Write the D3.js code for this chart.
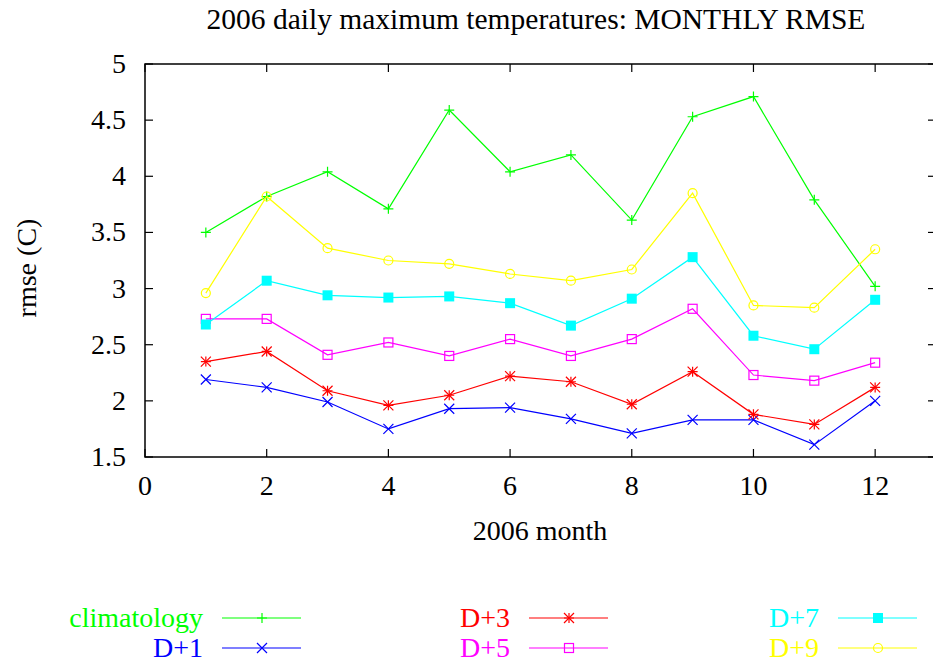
<!DOCTYPE html>
<html>
<head>
<meta charset="utf-8">
<script src="https://d3js.org/d3.v7.min.js"></script>
<style>
  body { margin: 0; background: #fff; }
  text { font-family: "Liberation Serif", "Times New Roman", serif; }
</style>
</head>
<body>
<svg></svg>
<script>
/* data */
var months = [1, 2, 3, 4, 5, 6, 7, 8, 9, 10, 11, 12];
var climatology = [3.50, 3.82, 4.04, 3.71, 4.59, 4.04, 4.19, 3.61, 4.53, 4.71, 3.79, 3.02];
var d1 = [2.19, 2.12, 1.99, 1.75, 1.93, 1.94, 1.84, 1.71, 1.83, 1.83, 1.61, 2.00];
var d3v = [2.35, 2.44, 2.09, 1.96, 2.05, 2.22, 2.17, 1.97, 2.26, 1.88, 1.79, 2.12];
var d5 = [2.73, 2.73, 2.41, 2.52, 2.40, 2.55, 2.40, 2.55, 2.82, 2.23, 2.18, 2.34];
var d7 = [2.68, 3.07, 2.94, 2.92, 2.93, 2.87, 2.67, 2.91, 3.28, 2.58, 2.46, 2.90];
var d9 = [2.96, 3.82, 3.36, 3.25, 3.22, 3.13, 3.07, 3.17, 3.85, 2.85, 2.83, 3.35];
var seriesNames = ['climatology', 'D+1', 'D+3', 'D+5', 'D+7', 'D+9'];
var xTicks = [0, 2, 4, 6, 8, 10, 12];
var yTicks = [1.5, 2, 2.5, 3, 3.5, 4, 4.5, 5];

var series = [
  {name: seriesNames[0], values: climatology, color: '#00ff00', sym: 'plus'},
  {name: seriesNames[1], values: d1, color: '#0000ff', sym: 'cross'},
  {name: seriesNames[2], values: d3v, color: '#ff0000', sym: 'star'},
  {name: seriesNames[3], values: d5, color: '#ff00ff', sym: 'box'},
  {name: seriesNames[4], values: d7, color: '#00ffff', sym: 'fbox'},
  {name: seriesNames[5], values: d9, color: '#ffff00', sym: 'circle'}
];

/* svg setting */
var svgWidth = 933;
var svgHeight = 667;
var margin = {top: 64, left: 145};
var width = 791;
var height = 393;
var fontSize = 28;

var svg = d3.select('svg')
    .attr('width', svgWidth)
    .attr('height', svgHeight);

var scale = {};
scale.x = d3.scaleLinear().domain([0, 13]).range([0, width]);
scale.y = d3.scaleLinear().domain([1.5, 5]).range([height, 0]);

var g = svg.append('g')
    .attr('transform', translate(margin.left, margin.top));

/* frame and ticks */
g.append('rect')
    .attr('width', width).attr('height', height)
    .attr('fill', 'none').attr('stroke', '#000').attr('stroke-width', 1.5);

var tickLen = 8;
xTicks.forEach(function(t){
  var x = scale.x(t);
  g.append('line').attr('x1', x).attr('x2', x).attr('y1', height).attr('y2', height - tickLen)
      .attr('stroke', '#000').attr('stroke-width', 1.2);
  g.append('line').attr('x1', x).attr('x2', x).attr('y1', 0).attr('y2', tickLen)
      .attr('stroke', '#000').attr('stroke-width', 1.2);
  g.append('text').attr('x', x).attr('y', height + 38)
      .attr('text-anchor', 'middle').attr('font-size', fontSize).text(t);
});
yTicks.forEach(function(t){
  var y = scale.y(t);
  g.append('line').attr('x1', 0).attr('x2', tickLen).attr('y1', y).attr('y2', y)
      .attr('stroke', '#000').attr('stroke-width', 1.2);
  g.append('line').attr('x1', width).attr('x2', width - tickLen).attr('y1', y).attr('y2', y)
      .attr('stroke', '#000').attr('stroke-width', 1.2);
  g.append('text').attr('x', -19).attr('y', y + 9)
      .attr('text-anchor', 'end').attr('font-size', fontSize).text(t);
});

/* titles */
svg.append('text').attr('x', 536).attr('y', 29)
    .attr('text-anchor', 'middle').attr('font-size', 29.5)
    .text('2006 daily maximum temperatures: MONTHLY RMSE');
svg.append('text').attr('x', 540).attr('y', 540)
    .attr('text-anchor', 'middle').attr('font-size', fontSize).text('2006 month');
svg.append('text')
    .attr('transform', 'translate(36,' + 268 + ') rotate(-90)')
    .attr('text-anchor', 'middle').attr('font-size', fontSize).text('rmse (C)');

/* symbols */
function drawSymbol(sel, sym, color, x, y){
  var s = 5;
  if (sym === 'plus' || sym === 'star') {
    sel.append('path').attr('d', 'M' + (x - s) + ',' + y + 'H' + (x + s) + 'M' + x + ',' + (y - s) + 'V' + (y + s))
        .attr('stroke', color).attr('stroke-width', 1.2).attr('fill', 'none');
  }
  if (sym === 'cross' || sym === 'star') {
    sel.append('path').attr('d', 'M' + (x - s) + ',' + (y - s) + 'L' + (x + s) + ',' + (y + s) +
        'M' + (x - s) + ',' + (y + s) + 'L' + (x + s) + ',' + (y - s))
        .attr('stroke', color).attr('stroke-width', 1.2).attr('fill', 'none');
  }
  if (sym === 'box') {
    sel.append('rect').attr('x', x - 4.5).attr('y', y - 4.5).attr('width', 9).attr('height', 9)
        .attr('stroke', color).attr('stroke-width', 1.2).attr('fill', 'none');
  }
  if (sym === 'fbox') {
    sel.append('rect').attr('x', x - 5).attr('y', y - 5).attr('width', 10).attr('height', 10)
        .attr('fill', color);
  }
  if (sym === 'circle') {
    sel.append('circle').attr('cx', x).attr('cy', y).attr('r', 4.5)
        .attr('stroke', color).attr('stroke-width', 1.2).attr('fill', 'none');
  }
}

/* lines */
var line = d3.line()
    .x(function(d){ return scale.x(d.x); })
    .y(function(d){ return scale.y(d.y); });

series.forEach(function(s){
  var pts = months.map(function(m, i){ return {x: m, y: s.values[i]}; });
  g.append('path').datum(pts)
      .attr('d', line).attr('fill', 'none')
      .attr('stroke', s.color).attr('stroke-width', 1.2);
  pts.forEach(function(p){
    drawSymbol(g, s.sym, s.color, scale.x(p.x), scale.y(p.y));
  });
});

/* legend */
var legendCols = [203, 510, 819];
var legendRows = [618, 648];
series.forEach(function(s, i){
  var col = Math.floor(i / 2), row = i % 2;
  var tx = legendCols[col], ty = legendRows[row];
  svg.append('text').attr('x', tx).attr('y', ty + 9)
      .attr('text-anchor', 'end').attr('font-size', fontSize)
      .attr('fill', s.color).text(s.name);
  svg.append('line').attr('x1', tx + 19).attr('x2', tx + 98).attr('y1', ty).attr('y2', ty)
      .attr('stroke', s.color).attr('stroke-width', 1.2);
  drawSymbol(svg, s.sym, s.color, tx + 59, ty);
});

function translate(x, y) {
  return 'translate(' + x + ',' + y + ')';
}
</script>
</body>
</html>
